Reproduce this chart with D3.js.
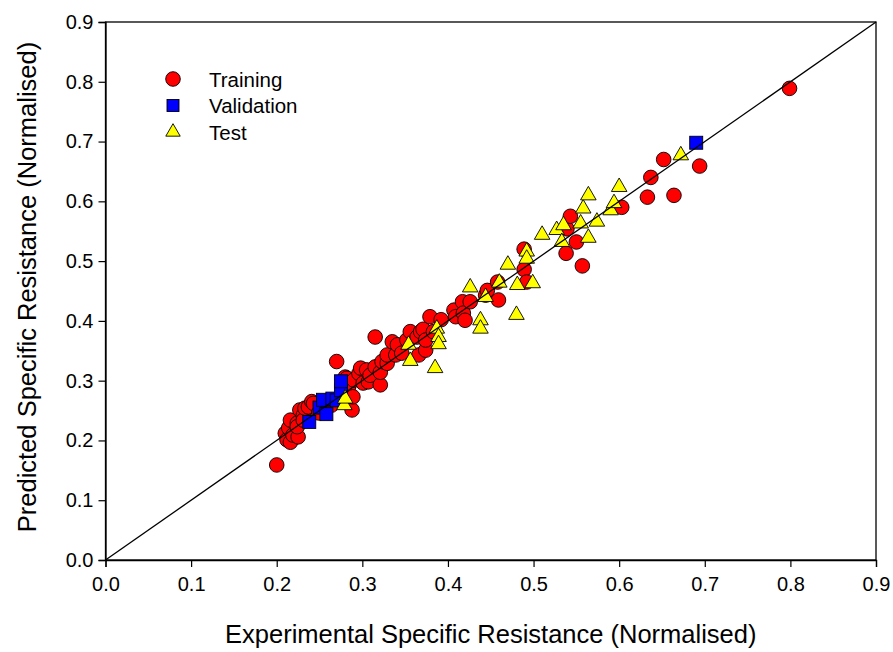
<!DOCTYPE html>
<html>
<head>
<meta charset="utf-8">
<script src="https://cdn.jsdelivr.net/npm/d3@7"></script>
<style>
  body { margin: 0; background: #fff; }
  svg { font-family: "Liberation Sans", Arial, sans-serif; }
</style>
</head>
<body>
<svg id="chart"></svg>
<script>
// data (experimental, predicted)
const trainingX = [0.200, 0.210, 0.212, 0.214, 0.216, 0.216, 0.219, 0.224, 0.225, 0.224, 0.227, 0.231, 0.231, 0.233, 0.237, 0.241,
  0.243, 0.249, 0.259, 0.264, 0.270, 0.278, 0.280, 0.282, 0.284, 0.288, 0.289, 0.290, 0.296, 0.298, 0.301, 0.305, 0.307,
  0.309, 0.315, 0.315, 0.321, 0.321, 0.323, 0.329, 0.329, 0.335, 0.339, 0.341, 0.346, 0.352, 0.356, 0.364, 0.366, 0.368,
  0.371, 0.374, 0.374, 0.379, 0.383, 0.392, 0.407, 0.409, 0.417, 0.418, 0.420, 0.426, 0.444, 0.446, 0.458, 0.459, 0.489,
  0.489, 0.492, 0.538, 0.539, 0.543, 0.550, 0.557, 0.603, 0.633, 0.637, 0.652, 0.664, 0.694, 0.799];
const trainingY = [0.159, 0.212, 0.201, 0.221, 0.234, 0.197, 0.209, 0.229, 0.206, 0.223, 0.251, 0.242, 0.234, 0.254, 0.256, 0.265,
  0.262, 0.246, 0.262, 0.259, 0.332, 0.301, 0.306, 0.304, 0.290, 0.251, 0.273, 0.301, 0.312, 0.321, 0.296, 0.318, 0.298,
  0.309, 0.373, 0.323, 0.293, 0.314, 0.332, 0.329, 0.343, 0.365, 0.343, 0.360, 0.346, 0.368, 0.382, 0.373, 0.343, 0.382,
  0.386, 0.351, 0.368, 0.407, 0.382, 0.402, 0.418, 0.407, 0.432, 0.413, 0.401, 0.432, 0.443, 0.451, 0.465, 0.435, 0.520,
  0.486, 0.465, 0.513, 0.554, 0.575, 0.532, 0.492, 0.590, 0.607, 0.640, 0.670, 0.610, 0.659, 0.789];

const validationX = [0.238, 0.250, 0.254, 0.258, 0.265, 0.270, 0.275, 0.275, 0.690];
const validationY = [0.231, 0.255, 0.268, 0.244, 0.270, 0.267, 0.284, 0.299, 0.698];

const testX = [0.279, 0.280, 0.354, 0.356, 0.385, 0.387, 0.389, 0.389, 0.426, 0.438, 0.438, 0.444, 0.460, 0.470, 0.480,
  0.481, 0.492, 0.492, 0.499, 0.510, 0.527, 0.533, 0.535, 0.555, 0.558, 0.564, 0.564, 0.574, 0.590, 0.594, 0.600, 0.672];
const testY = [0.259, 0.270, 0.360, 0.333, 0.321, 0.387, 0.373, 0.361, 0.456, 0.401, 0.387, 0.440, 0.464, 0.494, 0.410,
  0.460, 0.516, 0.504, 0.463, 0.544, 0.552, 0.532, 0.560, 0.563, 0.588, 0.610, 0.539, 0.566, 0.585, 0.597, 0.624, 0.677];

const tickValues = [0, 0.1, 0.2, 0.3, 0.4, 0.5, 0.6, 0.7, 0.8, 0.9];
const legendLabels = ["Training", "Validation", "Test"];

const width = 893, height = 652;
const margin = { top: 22, right: 17, bottom: 92, left: 105.5 };

const svg = d3.select("#chart").attr("width", width).attr("height", height);

const x = d3.scaleLinear().domain([0, 0.9]).range([margin.left, width - margin.right]);
const y = d3.scaleLinear().domain([0, 0.9]).range([height - margin.bottom, margin.top]);

const zip = (xs, ys) => xs.map((v, i) => ({ x: v, y: ys[i] }));
const training = zip(trainingX, trainingY);
const validation = zip(validationX, validationY);
const test = zip(testX, testY);

// frame
svg.append("rect")
  .attr("x", x(0)).attr("y", y(0.9))
  .attr("width", x(0.9) - x(0)).attr("height", y(0) - y(0.9))
  .attr("fill", "none").attr("stroke", "#000").attr("stroke-width", 1.3);

// axes
const fmt = d3.format(".1f");
const xAxis = svg.append("g")
  .attr("transform", `translate(0,${y(0)})`)
  .call(d3.axisBottom(x).tickValues(tickValues).tickFormat(fmt).tickSize(7).tickPadding(10));
const yAxis = svg.append("g")
  .attr("transform", `translate(${x(0)},0)`)
  .call(d3.axisLeft(y).tickValues(tickValues).tickFormat(fmt).tickSize(7).tickPadding(5));

[xAxis, yAxis].forEach(g => {
  g.select(".domain").attr("stroke", "#000").attr("stroke-width", 1.3);
  g.selectAll(".tick line").attr("stroke", "#000").attr("stroke-width", 1.2);
  g.selectAll(".tick text")
    .attr("fill", "#000")
    .style("font-size", "20px")
    .style("font-family", "Liberation Sans, Arial, sans-serif");
});

// axis titles
svg.append("text")
  .attr("x", (x(0) + x(0.9)) / 2)
  .attr("y", 643)
  .attr("text-anchor", "middle")
  .style("font-size", "25.5px")
  .text("Experimental Specific Resistance (Normalised)");

svg.append("text")
  .attr("transform", `translate(36,287) rotate(-90)`)
  .attr("text-anchor", "middle")
  .style("font-size", "25.5px")
  .text("Predicted Specific Resistance (Normalised)");

const plot = svg.append("g");

// training circles
plot.selectAll("circle.train")
  .data(training)
  .join("circle")
  .attr("class", "train")
  .attr("cx", d => x(d.x))
  .attr("cy", d => y(d.y))
  .attr("r", 7.3)
  .attr("fill", "#ff0000")
  .attr("stroke", "#000")
  .attr("stroke-width", 0.9);

// validation squares
const sq = 13;
plot.selectAll("rect.val")
  .data(validation)
  .join("rect")
  .attr("class", "val")
  .attr("x", d => x(d.x) - sq / 2)
  .attr("y", d => y(d.y) - sq / 2)
  .attr("width", sq).attr("height", sq)
  .attr("fill", "#0000ff")
  .attr("stroke", "#000")
  .attr("stroke-width", 0.9);

// test triangles
const tri = d3.symbol().type(d3.symbolTriangle).size(105);
plot.selectAll("path.test")
  .data(test)
  .join("path")
  .attr("class", "test")
  .attr("d", tri)
  .attr("transform", d => `translate(${x(d.x)},${y(d.y)})`)
  .attr("fill", "#ffff00")
  .attr("stroke", "#000")
  .attr("stroke-width", 0.9);

// 1:1 line
svg.append("line")
  .attr("x1", x(0)).attr("y1", y(0))
  .attr("x2", x(0.9)).attr("y2", y(0.9))
  .attr("stroke", "#000").attr("stroke-width", 1.3);

// legend
const legend = svg.append("g").attr("transform", "translate(173,79)");
const items = legend.selectAll("g")
  .data(legendLabels)
  .join("g")
  .attr("transform", (d, i) => `translate(0,${i * 26.5})`);

items.each(function (d, i) {
  const g = d3.select(this);
  if (i === 0) {
    g.append("circle").attr("r", 7.3).attr("fill", "#ff0000").attr("stroke", "#000").attr("stroke-width", 0.9);
  } else if (i === 1) {
    g.append("rect").attr("x", -6).attr("y", -6).attr("width", 12).attr("height", 12)
      .attr("fill", "#0000ff").attr("stroke", "#000").attr("stroke-width", 0.9);
  } else {
    g.append("path").attr("d", d3.symbol().type(d3.symbolTriangle).size(90))
      .attr("fill", "#ffff00").attr("stroke", "#000").attr("stroke-width", 0.9);
  }
  g.append("text")
    .attr("x", 36)
    .attr("y", 7.5)
    .style("font-size", "20.5px")
    .text(d);
});
</script>
</body>
</html>
